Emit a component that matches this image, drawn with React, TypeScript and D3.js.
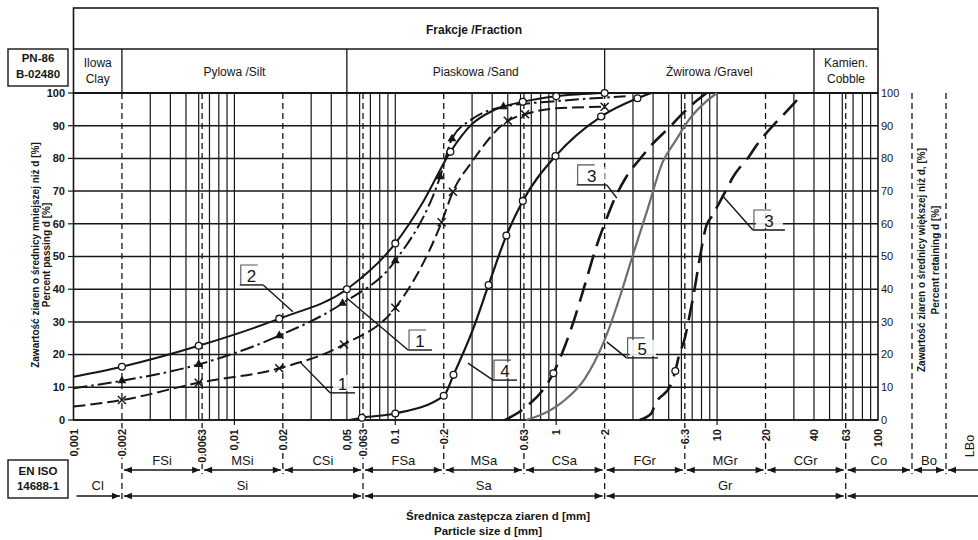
import React from 'react'
import * as d3 from 'd3'

type Pt = [number, number]

// grain size curves: [particle size d in mm, percent passing]
const curve2: Pt[] = [[0.001, 13.2], [0.002, 16.3], [0.006, 22.7], [0.019, 31], [0.05, 40], [0.1, 54], [0.15, 67], [0.22, 82], [0.3, 90.5], [0.4, 94.5], [0.62, 97.3], [1, 99], [2, 100]]
const curve2Marks: Pt[] = [[0.002, 16.3], [0.006, 22.7], [0.019, 31], [0.05, 40], [0.1, 54], [0.22, 82], [0.62, 97.3], [1, 99], [2, 100]]

const curve1Tri: Pt[] = [[0.001, 9.7], [0.002, 12], [0.006, 17], [0.019, 25.8], [0.047, 35.7], [0.1, 48.7], [0.19, 74.4], [0.225, 86], [0.3, 92], [0.47, 95.8], [1, 97.5], [2.7, 99]]
const curve1TriMarks: Pt[] = [[0.002, 12], [0.006, 17], [0.019, 25.8], [0.047, 35.7], [0.1, 48.7], [0.19, 74.4], [0.225, 86], [0.47, 95.8]]

const curve1Cross: Pt[] = [[0.001, 4.1], [0.002, 6.1], [0.006, 11.4], [0.019, 15.8], [0.048, 23.1], [0.1, 34.3], [0.194, 60.5], [0.228, 69.8], [0.3, 79], [0.5, 91.5], [0.64, 93.5], [1, 95.3], [2, 95.8]]
const curve1CrossMarks: Pt[] = [[0.002, 6.1], [0.006, 11.4], [0.019, 15.8], [0.048, 23.1], [0.1, 34.3], [0.194, 60.5], [0.228, 69.8], [0.5, 91.5], [0.64, 93.5], [2, 95.8]]

const curve4: Pt[] = [[0.052, 0], [0.062, 0.7], [0.1, 2], [0.2, 7.4], [0.23, 13.8], [0.3, 27], [0.38, 41.3], [0.49, 56.4], [0.62, 67], [0.99, 80.7], [1.9, 92.8], [3.2, 98.4], [3.9, 100]]
const curve4Marks: Pt[] = [[0.062, 0.7], [0.1, 2], [0.2, 7.4], [0.23, 13.8], [0.38, 41.3], [0.49, 56.4], [0.62, 67], [0.99, 80.7], [1.9, 92.8], [3.2, 98.4]]

const curve5: Pt[] = [[0.65, 0], [0.8, 1.5], [1.1, 5.6], [1.5, 12.5], [2, 24.5], [2.5, 38], [2.95, 49.4], [3.7, 64.5], [4.6, 79], [5.5, 85.3], [6.8, 92.3], [8.5, 97.3], [10, 100]]

const curve3a: Pt[] = [[0.48, 0], [0.65, 4], [0.85, 10], [0.96, 14.3], [1.1, 21], [1.3, 31], [1.5, 41], [1.79, 53.5], [2, 60], [2.3, 67.5], [2.7, 74], [3.4, 80.5], [3.9, 84], [5.1, 89.7], [5.9, 93], [7, 96.5], [8.6, 100]]
const curve3aMarks: Pt[] = [[0.96, 14.3]]

const curve3b: Pt[] = [[3.3, 0], [3.9, 2], [4.1, 4.6], [5.2, 11.2], [5.5, 15], [5.75, 19], [6.3, 25], [6.6, 29.6], [7.3, 41], [7.65, 47], [8.6, 59.6], [9.25, 62.2], [11.3, 70], [12.6, 74.4], [16, 81], [17.6, 84], [22.4, 90.2], [25.2, 92.8], [32.4, 98.6]]
const curve3bMarks: Pt[] = [[5.5, 15]]

// numbered leader labels: underline [d start, d end, percent], tip on the curve
const labelText = ['2', '1', '1', '4', '3', '5', '3']
const labelLine: [number, number, number][] = [[0.0108, 0.0151, 41.3], [0.0393, 0.0562, 8.3], [0.12, 0.169, 21.4], [0.405, 0.571, 12.2], [1.34, 2.06, 71.9], [2.74, 4.29, 19.0], [16.7, 26.4, 58.1]]
const labelTip: Pt[] = [[0.0231, 33.1], [0.0256, 17.7], [0.0499, 37.3], [0.283, 17.4], [2.38, 67.9], [2.06, 23.9], [10.7, 68.8]]
const labelBoxed = [true, false, true, true, true, true, true]

// axes
const percentTicks = d3.range(0, 101, 10)
const tickValues = [0.001, 0.002, 0.0063, 0.01, 0.02, 0.05, 0.063, 0.1, 0.2, 0.63, 1, 2, 6.3, 10, 20, 40, 63, 100]
const tickLabels = ['0,001', '0.002', '0.0063', '0,01', '0.02', '0,05', '0.063', '0.1', '0.2', '0.63', '1', '2', '6.3', '10', '20', '40', '63', '100']

// PN-86 fractions (header)
const pnBounds = [0.001, 0.002, 0.05, 2, 40, 100]
const pnNames = [['Ilowa', 'Clay'], ['Pylowa /Silt'], ['Piaskowa /Sand'], ['Żwirowa /Gravel'], ['Kamien.', 'Cobble']]

// EN ISO 14688-1 fractions (footer)
const isoBounds = [0.002, 0.0063, 0.02, 0.063, 0.2, 0.63, 2, 6.3, 20, 63]
const isoNames = ['FSi', 'MSi', 'CSi', 'FSa', 'MSa', 'CSa', 'FGr', 'MGr', 'CGr']
const isoMajor = [0.002, 0.063, 2, 63]
const isoMajorNames = ['Si', 'Sa', 'Gr']

const FONT = '"Liberation Sans", Arial, sans-serif'
const INK = '#161616'

const x = d3.scaleLog().domain([0.001, 100]).range([73.5, 878])
const y = d3.scaleLinear().domain([0, 100]).range([420, 93])
const lineGen = d3.line<Pt>().x(d => x(d[0])).y(d => y(d[1])).curve(d3.curveMonotoneX)

const Arrow = ({ x1, x2, yy, start, end }: { x1: number, x2: number, yy: number, start?: boolean, end?: boolean }) => (
  <g>
    <line x1={x1} x2={x2} y1={yy} y2={yy} stroke={INK} strokeWidth={1.4} />
    {start && <polygon points={`${x1},${yy} ${x1 + 8},${yy - 3.2} ${x1 + 8},${yy + 3.2}`} fill={INK} />}
    {end && <polygon points={`${x2},${yy} ${x2 - 8},${yy - 3.2} ${x2 - 8},${yy + 3.2}`} fill={INK} />}
  </g>
)

const Marker = ({ kind, p }: { kind: string, p: Pt }) => {
  const cx = x(p[0]), cy = y(p[1])
  if (kind === 'circle') return <circle cx={cx} cy={cy} r={3.4} fill="#fff" stroke={INK} strokeWidth={1.3} />
  if (kind === 'tri') return <path transform={`translate(${cx},${cy})`} d={d3.symbol(d3.symbolTriangle, 34)() || ''} fill={INK} />
  return <path transform={`translate(${cx},${cy})`} d="M-4,-4L4,4M-4,4L4,-4" stroke={INK} strokeWidth={1.5} />
}

export default function App() {
  const series = [
    { pts: curve5, marks: [] as Pt[], kind: '', dash: undefined, width: 2.2, color: '#6e6e6e' },
    { pts: curve3a, marks: curve3aMarks, kind: 'circle', dash: '20,9', width: 2.6, color: INK },
    { pts: curve3b, marks: curve3bMarks, kind: 'circle', dash: '20,9', width: 2.6, color: INK },
    { pts: curve1Cross, marks: curve1CrossMarks, kind: 'cross', dash: '12,5', width: 2, color: INK },
    { pts: curve1Tri, marks: curve1TriMarks, kind: 'tri', dash: '14,4,2.5,4', width: 2, color: INK },
    { pts: curve2, marks: curve2Marks, kind: 'circle', dash: undefined, width: 2, color: INK },
    { pts: curve4, marks: curve4Marks, kind: 'circle', dash: undefined, width: 2.2, color: INK },
  ]

  // vertical grid: 1..9 per decade, 2x dashed, plus dashed 6.3x
  const decades = [-3, -2, -1, 0, 1]
  const solid: number[] = []
  const dashed: number[] = []
  decades.forEach(n => d3.range(1, 10).forEach(k => {
    const v = +(k * Math.pow(10, n)).toPrecision(3)
    if (v === 0.001) return
    if (k === 2) dashed.push(v)
    else solid.push(v)
  }))
  decades.forEach(n => dashed.push(+(6.3 * Math.pow(10, n)).toPrecision(3)))

  const [x0, x1] = x.range()
  const [yBottom, yTop] = y.range()
  const boX = 912
  const lboX = 946

  return (
    <svg width={978} height={540} style={{ position: 'absolute', left: 0, top: 0, background: '#fff' }} fontFamily={FONT}>
      <rect width={978} height={540} fill="#fff" />

      {/* header */}
      <rect x={x0} y={8} width={x1 - x0} height={yTop - 8} fill="none" stroke={INK} strokeWidth={1.6} />
      <line x1={x0} x2={x1} y1={49} y2={49} stroke={INK} strokeWidth={1.4} />
      <text x={474} y={34} textAnchor="middle" fontSize={12} fontWeight="bold" fill={INK}>Frakcje /Fraction</text>
      {pnNames.map((names, i) => {
        const a = x(pnBounds[i]), b = x(pnBounds[i + 1])
        const cx = (a + b) / 2
        return (
          <g key={i}>
            {i > 0 && <line x1={a} x2={a} y1={49} y2={yTop} stroke={INK} strokeWidth={1.3} />}
            {names.length === 1
              ? <text x={cx} y={76} textAnchor="middle" fontSize={12} fill={INK}>{names[0]}</text>
              : names.map((t, j) => <text key={j} x={cx} y={67 + j * 16} textAnchor="middle" fontSize={12} fill={INK}>{t}</text>)}
          </g>
        )
      })}
      <rect x={8} y={49} width={60} height={37} fill="none" stroke={INK} strokeWidth={1.4} />
      <text x={38} y={62} textAnchor="middle" fontSize={11.5} fontWeight="bold" fill={INK}>PN-86</text>
      <text x={38} y={78} textAnchor="middle" fontSize={11.5} fontWeight="bold" fill={INK}>B-02480</text>

      {/* grid */}
      {percentTicks.map(v => (
        <line key={v} x1={x0} x2={x1} y1={y(v)} y2={y(v)} stroke={INK} strokeWidth={1.5} />
      ))}
      {solid.map(v => (
        <line key={'s' + v} x1={x(v)} x2={x(v)} y1={yTop} y2={yBottom + ([0.01, 0.1, 1, 10].includes(v) ? 5 : 0)} stroke={INK} strokeWidth={1.2} />
      ))}
      {dashed.map(v => (
        <line key={'d' + v} x1={x(v)} x2={x(v)} y1={yTop} y2={yBottom + (isoBounds.includes(v) ? (isoMajor.includes(v) ? 79 : 54) : 0)} stroke={INK} strokeWidth={1.3} strokeDasharray="6,4" />
      ))}
      <rect x={x0} y={yTop} width={x1 - x0} height={yBottom - yTop} fill="none" stroke={INK} strokeWidth={1.6} />
      {[boX, lboX].map(bx => (
        <line key={bx} x1={bx} x2={bx} y1={yTop} y2={474} stroke={INK} strokeWidth={1.3} strokeDasharray="6,4" />
      ))}

      {/* left and right percent axes */}
      {percentTicks.map(v => (
        <g key={'ax' + v}>
          <line x1={68} x2={x0} y1={y(v)} y2={y(v)} stroke={INK} strokeWidth={1.2} />
          <text x={65} y={y(v)} dy="0.35em" textAnchor="end" fontSize={11} fontWeight="bold" fill={INK}>{v}</text>
          <text x={881} y={y(v)} dy="0.35em" fontSize={11} fill={INK}>{v}</text>
        </g>
      ))}
      <g transform="translate(38.5,255) rotate(-90)" fontSize={10} fontWeight="bold" fill={INK} textAnchor="middle">
        <text>Zawartość ziaren o średnicy mniejszej niż d [%]</text>
        <text y={11.5}>Percent passing d [%]</text>
      </g>
      <g transform="translate(925,260) rotate(-90)" fontSize={10} fontWeight="bold" fill={INK} textAnchor="middle">
        <text>Zawartość ziaren o średnicy większej niż d, [%]</text>
        <text y={14}>Percent retaining d [%]</text>
      </g>

      {/* curves */}
      <g>
        {series.map((s, i) => (
          <path key={i} d={lineGen(s.pts) || ''} fill="none" stroke={s.color} strokeWidth={s.width} strokeDasharray={s.dash} strokeLinecap="butt" />
        ))}
        {series.map((s, i) => s.marks.map((p, j) => <Marker key={i + '-' + j} kind={s.kind} p={p} />))}
      </g>

      {/* numbered labels */}
      {labelText.map((t, i) => {
        const [da, db, pl] = labelLine[i]
        const ax = x(da), bx = x(db), ly = y(pl)
        const tx = x(labelTip[i][0]), ty = y(labelTip[i][1])
        const fromX = labelTip[i][0] > db ? bx : ax
        return (
          <g key={'lb' + i}>
            <line x1={ax} x2={bx} y1={ly} y2={ly} stroke={INK} strokeWidth={1.4} />
            <line x1={fromX} x2={tx} y1={ly} y2={ty} stroke={INK} strokeWidth={1.4} />
            {labelBoxed[i] && <path d={`M${ax + 1},${ly}V${ly - 20}H${ax + 18}`} fill="none" stroke="#555" strokeWidth={1.1} />}
            <rect x={ax + 3} y={ly - 18} width={bx - ax - 5} height={16} fill="#fff" opacity={0.85} />
            <text x={(ax + bx) / 2} y={ly - 3} textAnchor="middle" fontSize={17} fill={INK}>{t}</text>
          </g>
        )
      })}

      {/* size ticks */}
      {tickValues.map((v, i) => (
        <text key={'t' + v} transform={`translate(${x(v) + 4},429) rotate(-90)`} textAnchor="end" fontSize={11} fontWeight="bold" fill={INK}
          stroke="#fff" strokeWidth={3} paintOrder="stroke">{tickLabels[i]}</text>
      ))}

      {/* EN ISO classes */}
      <rect x={8} y={460} width={60} height={38} fill="none" stroke={INK} strokeWidth={1.4} />
      <text x={38} y={475} textAnchor="middle" fontSize={11.5} fontWeight="bold" fill={INK}>EN ISO</text>
      <text x={38} y={490} textAnchor="middle" fontSize={11.5} fontWeight="bold" fill={INK}>14688-1</text>
      {isoNames.map((n, i) => {
        const a = x(isoBounds[i]), b = x(isoBounds[i + 1])
        return (
          <g key={n}>
            <Arrow x1={a + 2} x2={b - 2} yy={470} start end />
            <text x={(a + b) / 2} y={465} textAnchor="middle" fontSize={13} fill={INK}>{n}</text>
          </g>
        )
      })}
      <Arrow x1={x(63) + 2} x2={boX - 2} yy={470} start end />
      <text x={(x(63) + boX) / 2} y={465} textAnchor="middle" fontSize={13} fill={INK}>Co</text>
      <Arrow x1={boX + 2} x2={lboX - 2} yy={470} start end />
      <text x={(boX + lboX) / 2} y={465} textAnchor="middle" fontSize={13} fill={INK}>Bo</text>
      <Arrow x1={lboX + 2} x2={978} yy={470} start />
      <text transform="translate(974,446) rotate(-90)" textAnchor="middle" fontSize={12.5} fill={INK}>LBo</text>

      <Arrow x1={x0 + 3} x2={x(0.002) - 2} yy={496} end />
      <text x={(x0 + x(0.002)) / 2} y={490} textAnchor="middle" fontSize={13} fill={INK}>Cl</text>
      {isoMajorNames.map((n, i) => {
        const a = x(isoMajor[i]), b = x(isoMajor[i + 1])
        return (
          <g key={n}>
            <Arrow x1={a + 2} x2={b - 2} yy={496} start end />
            <text x={(a + b) / 2} y={490} textAnchor="middle" fontSize={13} fill={INK}>{n}</text>
          </g>
        )
      })}
      <Arrow x1={x(63) + 2} x2={978} yy={496} start />

      <text x={498} y={520} textAnchor="middle" fontSize={11.5} fontWeight="bold" fill={INK}>Średnica zastępcza ziaren d [mm]</text>
      <text x={488} y={535} textAnchor="middle" fontSize={11.5} fontWeight="bold" fill={INK}>Particle  size d [mm]</text>
    </svg>
  )
}
